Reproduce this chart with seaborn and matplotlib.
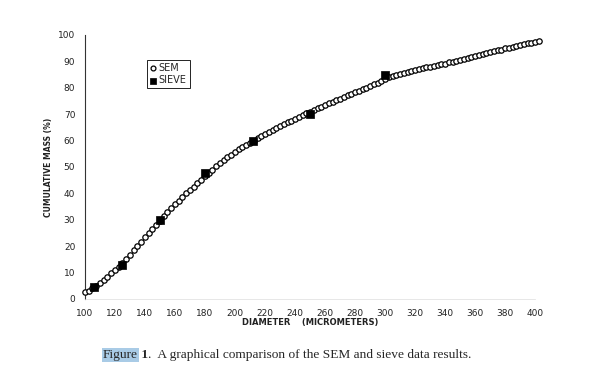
import matplotlib
matplotlib.use("Agg")
import matplotlib.pyplot as plt
import numpy as np
import pandas as pd
import seaborn as sns

# SEM curve (diameter in micrometers, cumulative mass in %)
sem_diameter = [
    100.0, 102.5, 105.0, 107.5, 110.0, 112.5, 115.0, 117.5, 120.0, 122.5,
    125.0, 127.5, 130.0, 132.5, 135.0, 137.5, 140.0, 142.5, 145.0, 147.5,
    150.0, 152.5, 155.0, 157.5, 160.0, 162.5, 165.0, 167.5, 170.0, 172.5,
    175.0, 177.5, 180.0, 182.5, 185.0, 187.5, 190.0, 192.5, 195.0, 197.5,
    200.0, 202.5, 205.0, 207.5, 210.0, 212.5, 215.0, 217.5, 220.0, 222.5,
    225.0, 227.5, 230.0, 232.5, 235.0, 237.5, 240.0, 242.5, 245.0, 247.5,
    250.0, 252.5, 255.0, 257.5, 260.0, 262.5, 265.0, 267.5, 270.0, 272.5,
    275.0, 277.5, 280.0, 282.5, 285.0, 287.5, 290.0, 292.5, 295.0, 297.5,
    300.0, 302.5, 305.0, 307.5, 310.0, 312.5, 315.0, 317.5, 320.0, 322.5,
    325.0, 327.5, 330.0, 332.5, 335.0, 337.5, 340.0, 342.5, 345.0, 347.5,
    350.0, 352.5, 355.0, 357.5, 360.0, 362.5, 365.0, 367.5, 370.0, 372.5,
    375.0, 377.5, 380.0, 382.5, 385.0, 387.5, 390.0, 392.5, 395.0, 397.5,
    400.0, 402.5,
]
sem_mass = [
    2.6, 3.2, 4.0, 4.9, 5.9, 7.1, 8.4, 9.7, 11.0, 12.3,
    13.7, 15.2, 16.8, 18.4, 20.1, 21.7, 23.3, 24.9, 26.5, 28.1,
    29.7, 31.3, 32.9, 34.4, 35.9, 37.3, 38.7, 40.0, 41.3, 42.6,
    43.9, 45.2, 46.5, 47.8, 49.0, 50.2, 51.4, 52.5, 53.6, 54.7,
    55.7, 56.7, 57.6, 58.4, 59.2, 60.0, 60.8, 61.6, 62.4, 63.2,
    64.0, 64.8, 65.5, 66.2, 66.9, 67.6, 68.3, 69.0, 69.7, 70.3,
    71.0, 71.6, 72.2, 72.9, 73.5, 74.1, 74.7, 75.3, 75.9, 76.5,
    77.1, 77.7, 78.3, 78.9, 79.5, 80.1, 80.7, 81.3, 81.9, 82.6,
    83.3, 84.0, 84.5, 84.9, 85.3, 85.6, 86.0, 86.3, 86.7, 87.0,
    87.4, 87.7, 88.0, 88.3, 88.6, 88.9, 89.2, 89.6, 89.9, 90.2,
    90.6, 90.9, 91.3, 91.7, 92.0, 92.4, 92.7, 93.1, 93.5, 93.8,
    94.2, 94.5, 94.9, 95.2, 95.5, 95.9, 96.2, 96.5, 96.8, 97.1,
    97.4, 97.6,
]

# sieve results
sieve_diameter = [106, 125, 150, 180, 212, 250, 300]
sieve_mass = [4.4, 12.8, 30.0, 47.6, 59.8, 70.1, 84.7]

x_ticks = list(range(100, 401, 20))
y_ticks = list(range(0, 101, 10))

sem_df = pd.DataFrame({"diameter": sem_diameter, "mass": sem_mass})
sieve_df = pd.DataFrame({"diameter": sieve_diameter, "mass": sieve_mass})

sns.set_theme(style="white")
plt.rcParams["font.family"] = ["DejaVu Sans"]

fig = plt.figure(figsize=(5.89, 3.79), dpi=100)
ax = fig.add_axes([85 / 589, 80 / 379, 450 / 589, 264 / 379])

sns.scatterplot(
    data=sem_df, x="diameter", y="mass", ax=ax, marker="o", s=15,
    facecolor="white", edgecolor="black", linewidth=0.9, label="SEM",
    clip_on=False, zorder=3,
)
sns.scatterplot(
    data=sieve_df, x="diameter", y="mass", ax=ax, marker="s", s=30,
    color="black", edgecolor="black", linewidth=0.5, label="SIEVE",
    clip_on=False, zorder=4,
)

ax.set_xlim(100, 400)
ax.set_ylim(0, 100)
ax.set_xticks(x_ticks)
ax.set_yticks(y_ticks)
ax.tick_params(axis="x", direction="in", length=3, width=0.6, color="#555555",
               labelsize=6.5, pad=7, labelcolor="#222222")
ax.tick_params(axis="y", length=0, labelsize=6.5, pad=7, labelcolor="#222222")

for side in ["top", "right"]:
    ax.spines[side].set_visible(False)
ax.spines["left"].set_color("#333333")
ax.spines["left"].set_linewidth(0.8)
ax.spines["bottom"].set_color("#dddddd")
ax.spines["bottom"].set_linewidth(0.5)

ax.set_xlabel("DIAMETER    (MICROMETERS)", fontsize=6, fontweight="bold",
              color="#222222")
ax.set_ylabel("CUMULATIVE MASS (%)", fontsize=5.5, fontweight="bold",
              color="#222222")
ax.xaxis.set_label_coords(0.5, -0.09)
ax.xaxis.label.set_va("center")
ax.yaxis.set_label_coords(-0.082, 0.5)
ax.yaxis.label.set_va("center")

leg = ax.legend(
    loc="upper left", bbox_to_anchor=(0.138, 0.905), borderaxespad=0,
    fancybox=False, framealpha=1, edgecolor="black", fontsize=7,
    handlelength=0.6, handletextpad=0.3, borderpad=0.3, labelspacing=0.25,
    markerscale=0.9,
)
leg.get_frame().set_linewidth(0.6)

# caption
cap_y = 1 - 355 / 379
t1 = fig.text(103 / 589, cap_y, "Figure", family="Liberation Serif",
              fontsize=9.6, va="center",
              bbox=dict(facecolor="#a9cbe6", edgecolor="none", pad=0.6))
t2 = ax.annotate(" 1", xy=(1, 0.5), xycoords=t1, va="center",
                 family="Liberation Serif", fontsize=9.6, fontweight="bold",
                 annotation_clip=False)
ax.annotate(".  A graphical comparison of the SEM and sieve data results.",
            xy=(1, 0.5), xycoords=t2, va="center", family="Liberation Serif",
            fontsize=9.6, annotation_clip=False)

fig.savefig("out.png", dpi=100)
